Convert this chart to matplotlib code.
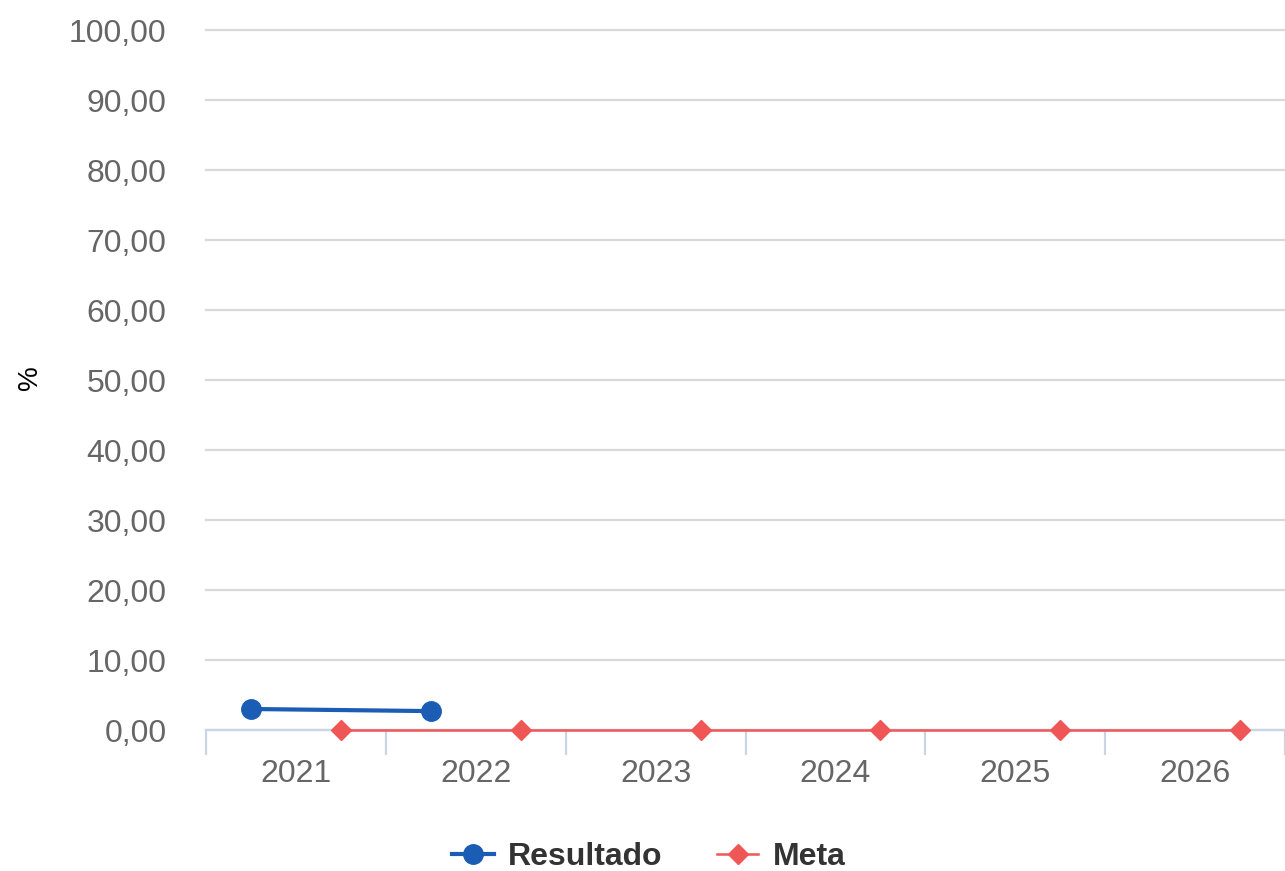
import numpy as np
import matplotlib
matplotlib.use('Agg')
from matplotlib import pyplot as plt
from matplotlib.ticker import FixedLocator

plt.rcParams['font.family'] = ['Liberation Sans', 'DejaVu Sans']

anos = ['2021', '2022', '2023', '2024', '2025', '2026']
resultado = [3.0, 2.7]
meta = [0, 0, 0, 0, 0, 0]
y_ticks = [0, 10, 20, 30, 40, 50, 60, 70, 80, 90, 100]

x = np.arange(len(anos))

fig = plt.figure(figsize=(12.85, 8.71), dpi=100)
ax = fig.add_axes([206 / 1285, 1 - 730 / 871, 1 - 206 / 1285, 700 / 871])

ax.plot(x[:len(resultado)] - 0.25, resultado, color='#1b5cb4', lw=3, marker='o',
        ms=14, label='Resultado', zorder=4, clip_on=False)
ax.plot(x + 0.25, meta, color='#ef5656', lw=1.8, marker='D', ms=10,
        label='Meta', zorder=3, clip_on=False)

ax.set_xlim(-0.5, 5.5)
ax.set_ylim(0, 100)
ax.set_yticks(y_ticks)
ax.set_yticklabels([f'{v:.2f}'.replace('.', ',') for v in y_ticks])
ax.set_xticks(x)
ax.set_xticklabels(anos)
ax.xaxis.set_minor_locator(FixedLocator(np.arange(-0.5, 6, 1)))

ax.grid(axis='y', color='#d9d9d9', lw=1.6)
for t in ax.yaxis.get_major_ticks():
    t.gridline.set_clip_on(False)
ax.set_axisbelow(True)
for s in ['left', 'right', 'top']:
    ax.spines[s].set_visible(False)
ax.spines['bottom'].set_color('#c9d5e5')
ax.spines['bottom'].set_linewidth(1.6)
ax.spines['bottom'].set_zorder(2)

ax.tick_params(axis='y', length=0, pad=28.5, labelsize=23, labelcolor='#666666')
ax.tick_params(axis='x', which='major', length=0, pad=21, labelsize=23, labelcolor='#666666')
ax.tick_params(axis='x', which='minor', length=18, width=1.6, color='#c9d5e5')

fig.text(30 / 1285, 1 - 378 / 871, '%', rotation=90, fontsize=20, ha='center', va='center')

fig.legend(loc='center', bbox_to_anchor=(649 / 1285, 1 - 857 / 871), ncol=2, frameon=False,
           prop={'size': 23, 'weight': 'bold'}, labelcolor='#333333', handlelength=1.3,
           columnspacing=1.7, handletextpad=0.45, borderpad=0.2)

fig.savefig('out.png', dpi=100)
